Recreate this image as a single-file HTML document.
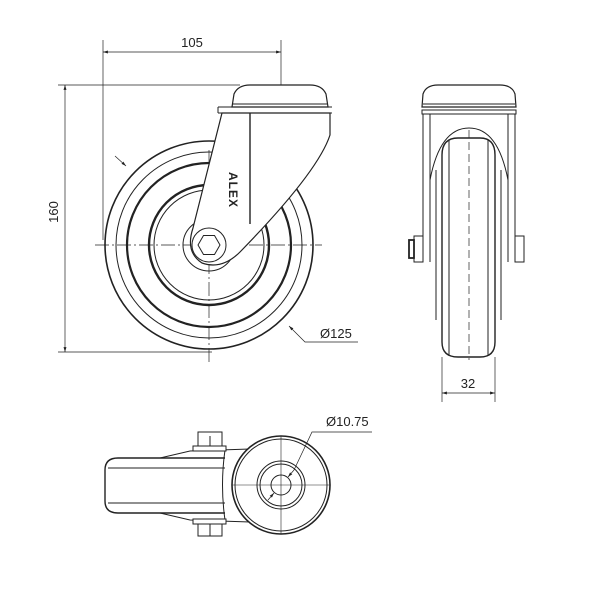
<!DOCTYPE html>
<html><head><meta charset="utf-8"><style>
html,body{margin:0;padding:0;background:#fff}
svg{display:block}
text{font-family:"Liberation Sans","DejaVu Sans",sans-serif;fill:#222}
</style></head><body>
<svg width="600" height="600" viewBox="0 0 600 600" xmlns="http://www.w3.org/2000/svg">
<defs>
<marker id="ar" viewBox="0 0 10 10" refX="10" refY="5" markerWidth="7" markerHeight="7" orient="auto-start-reverse"><path d="M0,2 L10,5 L0,8 z" fill="#222"/></marker>
</defs>
<g fill="none" stroke="#222" stroke-width="1">
<!-- FRONT VIEW dimensions -->
<g stroke-width="0.7">
<line x1="103" y1="40" x2="103" y2="240"/>
<line x1="281" y1="40" x2="281" y2="100"/>
<line x1="103" y1="52" x2="281" y2="52" marker-start="url(#ar)" marker-end="url(#ar)"/>
<line x1="58" y1="85" x2="240" y2="85"/>
<line x1="58" y1="352" x2="212" y2="352"/>
<line x1="65" y1="85" x2="65" y2="352" marker-start="url(#ar)" marker-end="url(#ar)"/>
<line x1="95" y1="245" x2="322" y2="245" stroke-dasharray="14 3 2 3"/>
<line x1="209" y1="150" x2="209" y2="362" stroke-dasharray="14 3 2 3"/>
<line x1="115" y1="156" x2="126" y2="166" marker-end="url(#ar)"/>
<polyline points="358,342 305,342 289,326" marker-end="url(#ar)"/>
</g>
<!-- wheel -->
<circle cx="209" cy="245" r="104" stroke-width="1.6"/>
<circle cx="209" cy="245" r="93"/>
<circle cx="209" cy="245" r="82" stroke-width="2.2"/>
<circle cx="209" cy="245" r="60" stroke-width="2.4"/>
<circle cx="209" cy="245" r="55"/>
<circle cx="209" cy="245" r="26"/>
<!-- fork -->
<path d="M222,113 L330,113 L330,135 Q318,172 240,252 Q222,270 202,263 Q185,252 193,228 Z" fill="#fff" stroke-width="1.2"/>
<circle cx="209" cy="245" r="17"/>
<polygon points="220,245 214.5,254.5 203.5,254.5 198,245 203.5,235.5 214.5,235.5" fill="#fff"/>
<line x1="250" y1="113" x2="250" y2="224" stroke-width="1.4"/>
<line x1="218" y1="107" x2="332" y2="107"/>
<line x1="218" y1="107" x2="218" y2="113"/>
<line x1="218" y1="113" x2="332" y2="113"/>
<path d="M232,107 L234,94 Q238,85 250,85 L310,85 Q322,85 326,94 L328,107 Z" fill="#fff" stroke-width="1.2"/>
<line x1="233" y1="104" x2="327" y2="104"/>

<!-- SIDE VIEW -->
<path d="M422,107 L423,94 Q426,85 438,85 L500,85 Q512,85 515,94 L516,107 Z" stroke-width="1.2"/>
<line x1="423" y1="104" x2="515" y2="104"/>
<rect x="422" y="110" width="94" height="4"/>
<path d="M423,114 L423,262 M430,114 L430,262 M508,114 L508,262 M515,114 L515,262"/>
<path d="M430,180 Q440,128 469,128 Q498,128 508,180"/>
<path d="M442,155 Q442,138 458,138 L480,138 Q495,138 495,155 L495,342 Q495,357 480,357 L458,357 Q442,357 442,342 Z" stroke-width="1.4" fill="#fff"/>
<line x1="449" y1="140" x2="449" y2="356"/>
<line x1="488" y1="140" x2="488" y2="356"/>
<line x1="436" y1="170" x2="436" y2="320"/>
<line x1="501" y1="170" x2="501" y2="320"/>
<rect x="414" y="236" width="9" height="26" fill="#fff"/>
<rect x="409" y="240" width="5" height="18" stroke-width="1.8"/>
<rect x="515" y="236" width="9" height="26" fill="#fff"/>
<line x1="469" y1="130" x2="469" y2="360" stroke-dasharray="8 4" stroke-width="0.7"/>
<g stroke-width="0.7">
<line x1="442" y1="357" x2="442" y2="402"/>
<line x1="495" y1="357" x2="495" y2="402"/>
<line x1="442" y1="393" x2="495" y2="393" marker-start="url(#ar)" marker-end="url(#ar)"/>
</g>

<!-- BOTTOM VIEW -->
<path d="M225,458 L118,458 Q105,458 105,470 L105,501 Q105,513 118,513 L225,513" stroke-width="1.4"/>
<line x1="108" y1="468" x2="225" y2="468"/>
<line x1="108" y1="503" x2="225" y2="503"/>
<path d="M160,458 L190,451 L250,449 M160,513 L190,520 L250,522"/>
<path d="M225,450 Q220,485 225,520"/>
<rect x="193" y="446" width="33" height="5" fill="#fff"/>
<rect x="193" y="519" width="33" height="5" fill="#fff"/>
<rect x="198" y="432" width="24" height="14" fill="#fff"/>
<line x1="210" y1="436" x2="210" y2="446"/>
<rect x="198" y="524" width="24" height="12" fill="#fff"/>
<line x1="210" y1="524" x2="210" y2="536"/>
<circle cx="281" cy="485" r="49" stroke-width="1.6" fill="#fff"/>
<circle cx="281" cy="485" r="46"/>
<circle cx="281" cy="485" r="24"/>
<circle cx="281" cy="485" r="21"/>
<circle cx="281" cy="485" r="10"/>
<g stroke-width="0.6">
<line x1="232" y1="485" x2="330" y2="485"/>
<line x1="281" y1="436" x2="281" y2="534"/>
</g>
<g stroke-width="0.7">
<line x1="294" y1="470" x2="288" y2="477" marker-end="url(#ar)"/>
<line x1="268" y1="500" x2="274" y2="493" marker-end="url(#ar)"/>
<polyline points="372,432 312,432 294,470"/>
</g>
</g>
<text x="192" y="47" font-size="13" text-anchor="middle">105</text>
<text x="58" y="212" font-size="13" text-anchor="middle" transform="rotate(-90 58 212)">160</text>
<text x="320" y="338" font-size="13">Ø125</text>
<text x="468" y="388" font-size="13" text-anchor="middle">32</text>
<text x="326" y="426" font-size="13">Ø10.75</text>
<text x="229" y="190" font-size="12" font-weight="bold" text-anchor="middle" transform="rotate(90 229 190)" letter-spacing="1">ALEX</text>
</svg>
</body></html>
